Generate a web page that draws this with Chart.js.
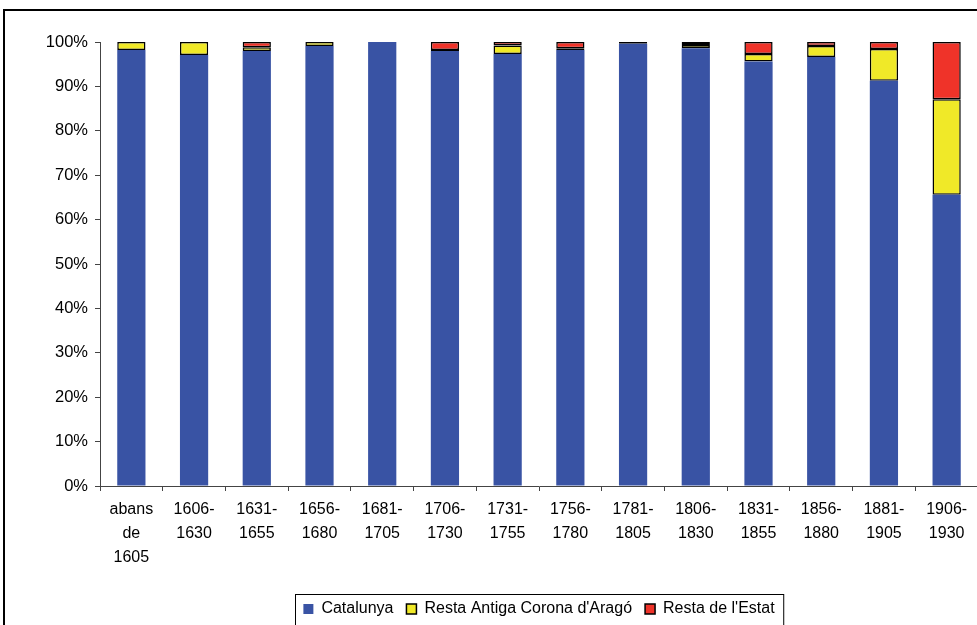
<!DOCTYPE html>
<html>
<head>
<meta charset="utf-8">
<script src="https://cdn.jsdelivr.net/npm/chart.js@4.4.0/dist/chart.umd.min.js"></script>
<style>
  html, body { margin: 0; padding: 0; background: #fff; overflow: hidden; width: 977px; height: 625px; }
  #frame { position: absolute; left: 3px; top: 9px; width: 1100px; height: 800px; border: 2px solid #000; box-sizing: border-box; }
  #chart { position: absolute; left: 0; top: 0; }
</style>
</head>
<body>
<div id="frame"></div>
<canvas id="chart" width="1000" height="680"></canvas>
<script>
// periods (x axis), two or three lines each
const periods = [
    ['abans', 'de', '1605'], ['1606-', '1630'], ['1631-', '1655'], ['1656-', '1680'],
    ['1681-', '1705'], ['1706-', '1730'], ['1731-', '1755'], ['1756-', '1780'],
    ['1781-', '1805'], ['1806-', '1830'], ['1831-', '1855'], ['1856-', '1880'],
    ['1881-', '1905'], ['1906-', '1930']
];

// share of each origin, percent
const catalunya = [98.2, 97.1, 98.0, 99.1, 100, 98.0, 97.3, 98.2, 99.6, 98.6, 95.6, 96.6, 91.3, 65.6];
const restaArago = [1.8, 2.9, 0.8, 0.9, 0, 0.2, 1.9, 0.4, 0.2, 0.7, 1.7, 2.5, 7.1, 21.5];
const restaEstat = [0, 0, 1.2, 0, 0, 1.8, 0.8, 1.4, 0.2, 0.7, 2.7, 0.9, 1.6, 12.9];

const yTicks = [0, 10, 20, 30, 40, 50, 60, 70, 80, 90, 100];

const FONT = 'Arial, "Liberation Sans", sans-serif';

// legend sits under the plot area, not the whole canvas
const legendShift = {
    id: 'legendShift',
    afterLayout(chart) {
        const lg = chart.legend;
        const a = chart.chartArea;
        const dx = (a.left + a.right) / 2 - (lg.left + lg.right) / 2;
        lg.left += dx;
        lg.right += dx;
    }
};

// box round the legend
const legendFrame = {
    id: 'legendFrame',
    afterDraw(chart) {
        const boxes = chart.legend.legendHitBoxes;
        if (!boxes || !boxes.length) return;
        let left = Infinity, right = -Infinity, mid = 0;
        boxes.forEach(b => {
            left = Math.min(left, b.left);
            right = Math.max(right, b.left + b.width);
            mid = b.top + b.height / 2;
        });
        const ctx = chart.ctx;
        ctx.save();
        ctx.strokeStyle = '#000';
        ctx.lineWidth = 1;
        ctx.strokeRect(Math.round(left - 8) + 0.5, Math.round(mid - 15) + 0.5, right - left + 17, 60);
        ctx.restore();
    }
};

const ctx = document.getElementById('chart');

new Chart(ctx, {
    type: 'bar',
    data: {
        labels: periods,
        datasets: [
            {
                label: 'Catalunya',
                data: catalunya,
                backgroundColor: '#3953a4',
                borderWidth: 0
            },
            {
                label: "Resta Antiga Corona d'Aragó",
                data: restaArago,
                backgroundColor: '#f0e928',
                borderColor: '#000',
                borderWidth: 1.5,
                borderSkipped: false
            },
            {
                label: "Resta de l'Estat",
                data: restaEstat,
                backgroundColor: '#ef3329',
                borderColor: '#000',
                borderWidth: 1.5,
                borderSkipped: false
            }
        ]
    },
    options: {
        responsive: false,
        animation: false,
        devicePixelRatio: 1,
        layout: { padding: { left: 0, right: 22, top: 42, bottom: 53 } },
        datasets: { bar: { categoryPercentage: 1, barPercentage: 0.45 } },
        scales: {
            x: {
                stacked: true,
                grid: { display: true, drawOnChartArea: false, drawTicks: true, tickLength: 5, color: '#444' },
                border: { display: true, color: '#444' },
                ticks: {
                    color: '#000',
                    padding: 7,
                    maxRotation: 0,
                    autoSkip: false,
                    font: { family: FONT, size: 16, lineHeight: 1.5 }
                },
                afterFit(scale) { scale.height = 102; }
            },
            y: {
                stacked: true,
                min: 0,
                max: 100,
                afterBuildTicks(scale) { scale.ticks = yTicks.map(v => ({ value: v })); },
                grid: { display: true, drawOnChartArea: false, drawTicks: true, tickLength: 5, color: '#444' },
                border: { display: true, color: '#444' },
                ticks: {
                    color: '#000',
                    padding: 7,
                    font: { family: FONT, size: 16.5 },
                    callback: v => v + '%'
                },
                afterFit(scale) { scale.width = 100; }
            }
        },
        plugins: {
            title: { display: false },
            tooltip: { enabled: false },
            legend: {
                position: 'bottom',
                labels: {
                    color: '#000',
                    boxWidth: 10,
                    boxHeight: 10,
                    padding: 13,
                    font: { family: FONT, size: 16 }
                }
            }
        }
    },
    plugins: [legendShift, legendFrame]
});
</script>
</body>
</html>
